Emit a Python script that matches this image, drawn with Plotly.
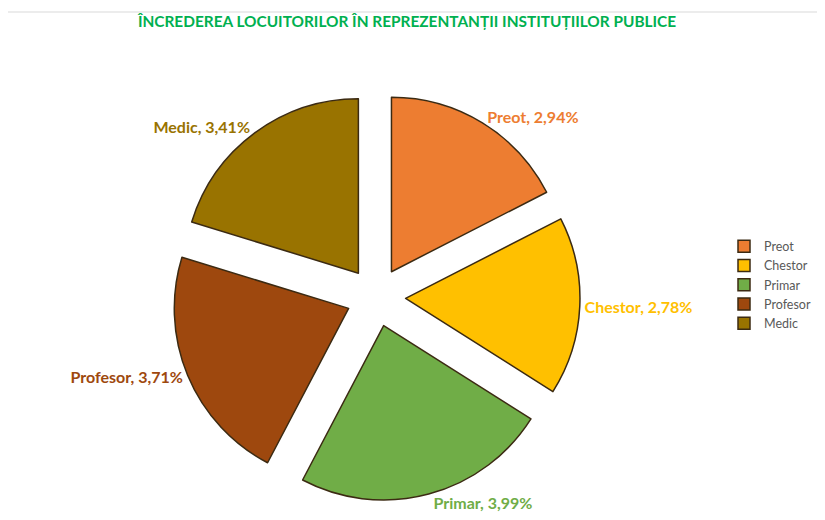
import plotly.graph_objects as go

categories = ["Preot", "Chestor", "Primar", "Profesor", "Medic"]
values = [2.94, 2.78, 3.99, 3.71, 3.41]
colors = ["#ED7D31", "#FFC000", "#70AD47", "#9E480E", "#997300"]
title_text = "ÎNCREDEREA LOCUITORILOR ÎN REPREZENTANȚII INSTITUȚIILOR PUBLICE"

W, H = 817, 512  # visible area (page body has an 8px offset)

fig = go.Figure(go.Pie(
    labels=categories,
    values=values,
    sort=False,
    direction="clockwise",
    rotation=0,
    pull=[0.17] * len(values),
    marker=dict(colors=colors, line=dict(color="#3b2a12", width=1.5)),
    texttemplate="%{label}, %{value:.2f}%",
    textposition="outside",
    outsidetextfont=dict(family="Lato", size=16, color=colors, weight="bold"),
    hoverinfo="label+value",
    domain=dict(x=[(376 - 8 - 204) / W, (376 - 8 + 204) / W],
                y=[(520 - 297 - 204) / H, (520 - 297 + 204) / H]),
))

fig.update_layout(
    width=W, height=H,
    margin=dict(l=0, r=0, t=0, b=0, autoexpand=False),
    paper_bgcolor="white",
    separators=",.",
    title=dict(text=title_text, x=(407 - 8) / W, xanchor="center", y=1 - (22 - 8) / H, yanchor="middle",
               font=dict(family="Lato", size=15.4, color="#00B050", weight="bold")),
    legend=dict(x=(724 - 8) / W, y=1 - (285 - 8) / H, xanchor="left", yanchor="middle",
                font=dict(family="Lato", size=12.5, color="#595959"),
                traceorder="normal"),
    shapes=[dict(type="rect", xref="paper", yref="paper", x0=-0.001, x1=1.01, y0=-0.02, y1=1 - (12 - 8) / H,
                 line=dict(color="#d9d9d9", width=1), fillcolor="rgba(0,0,0,0)", layer="below")],
)

fig.write_html("out.html")
